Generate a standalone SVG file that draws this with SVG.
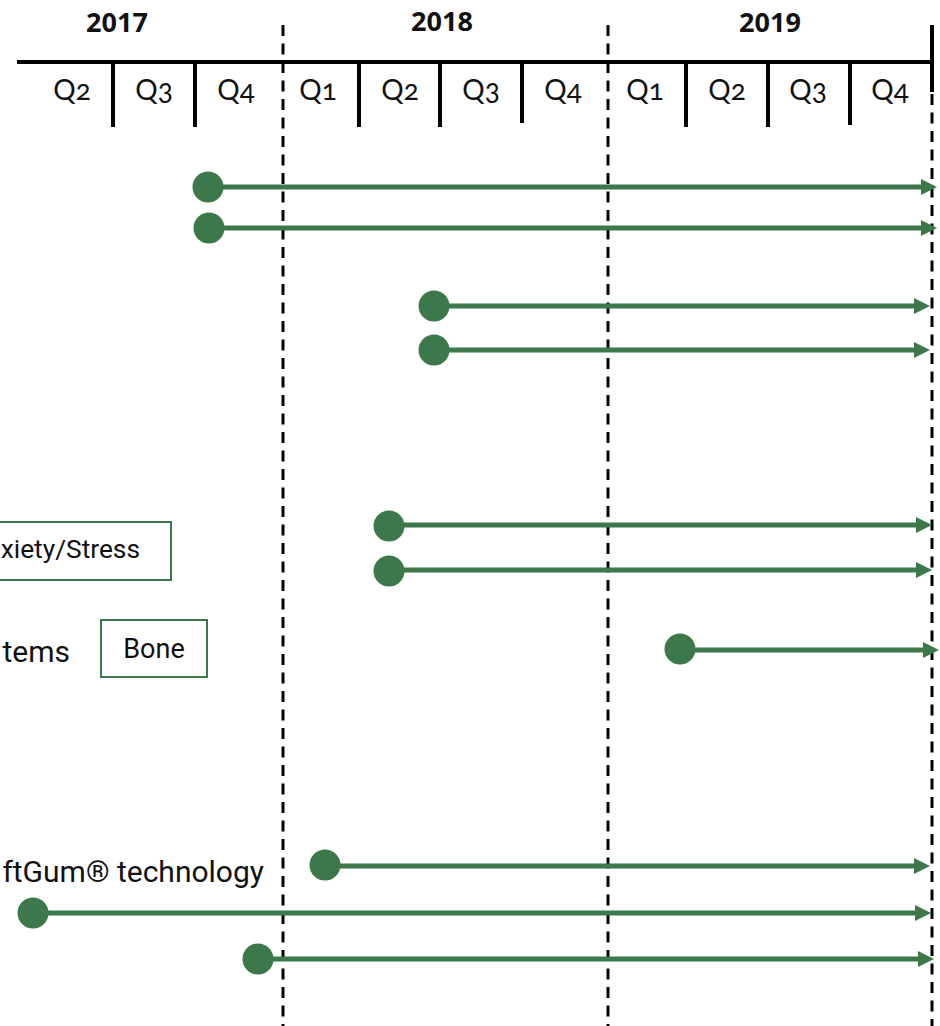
<svg xmlns="http://www.w3.org/2000/svg" width="940" height="1026" viewBox="0 0 940 1026">
<style>
.bg{fill:#ffffff}
.axis{stroke:#000;stroke-width:4;fill:none}
.tick{stroke:#000;stroke-width:4}
.dash{stroke:#000;stroke-width:3;stroke-dasharray:11 7.5;fill:none}
.year{font-family:"Open Sans","Liberation Sans",sans-serif;font-weight:700;font-size:27px;fill:#111;text-anchor:middle}
.q{font-family:Lato,"Open Sans","Liberation Sans",sans-serif;font-size:28px;fill:#111;text-anchor:middle;font-variant-numeric:oldstyle-nums;font-feature-settings:"onum" 1}
.bar{stroke:#3c784a;stroke-width:5;fill:none}
.dot{fill:#3c784a}
.lbl{font-family:Roboto,"Liberation Sans",sans-serif;fill:#111}
.box{fill:#fff;stroke:#3c784a;stroke-width:2}
</style>
<defs>
<marker id="ah" markerUnits="userSpaceOnUse" markerWidth="16" markerHeight="16" refX="4" refY="8" orient="auto">
<path d="M0,0 L16,8 L0,16 Z" fill="#3c784a"/>
</marker>
</defs>
<rect class="bg" x="0" y="0" width="940" height="1026"/>

<g id="timeline">
<line class="axis" x1="17" y1="62" x2="932" y2="62"/>
<line class="tick" x1="932" y1="25" x2="932" y2="92"/>
<line class="tick" x1="113" y1="62" x2="113" y2="127"/>
<line class="tick" x1="195" y1="62" x2="195" y2="127"/>
<line class="tick" x1="359" y1="62" x2="359" y2="127"/>
<line class="tick" x1="440" y1="62" x2="440" y2="127"/>
<line class="tick" x1="522" y1="62" x2="522" y2="123"/>
<line class="tick" x1="686" y1="62" x2="686" y2="127"/>
<line class="tick" x1="768" y1="62" x2="768" y2="127"/>
<line class="tick" x1="850" y1="62" x2="850" y2="125"/>
<text class="year" x="117" y="32">2017</text>
<text class="year" x="442" y="31">2018</text>
<text class="year" x="770" y="32">2019</text>
<text class="q" x="72" y="100">Q2</text>
<text class="q" x="154" y="100">Q3</text>
<text class="q" x="236" y="100">Q4</text>
<text class="q" x="318" y="100">Q1</text>
<text class="q" x="400" y="100">Q2</text>
<text class="q" x="481" y="100">Q3</text>
<text class="q" x="563" y="100">Q4</text>
<text class="q" x="645" y="100">Q1</text>
<text class="q" x="727" y="100">Q2</text>
<text class="q" x="808" y="100">Q3</text>
<text class="q" x="890" y="100">Q4</text>
</g>

<g id="year-dividers">
<line class="dash" x1="283" y1="25" x2="283" y2="1026"/>
<line class="dash" x1="608" y1="25" x2="608" y2="1026"/>
<line class="dash" x1="932" y1="94" x2="932" y2="1026"/>
</g>

<g id="label-anxiety">
<rect class="box" x="-10" y="522" width="181" height="58"/>
<text class="lbl" x="140" y="558" font-size="26.3" text-anchor="end">xiety/Stress</text>
</g>
<g id="label-systems">
<text class="lbl" x="70" y="662" font-size="30" text-anchor="end">tems</text>
</g>
<g id="label-bone">
<rect class="box" x="101" y="620" width="106" height="57"/>
<text class="lbl" x="154" y="658" font-size="27" text-anchor="middle">Bone</text>
</g>
<g id="label-softgum">
<text class="lbl" x="264" y="882" font-size="30" text-anchor="end">ftGum® technology</text>
</g>

<g id="connectors">
<line class="bar" x1="208" y1="187" x2="925" y2="187" marker-end="url(#ah)"/>
<line class="bar" x1="209" y1="228" x2="925" y2="228" marker-end="url(#ah)"/>
<line class="bar" x1="434" y1="306" x2="918" y2="306" marker-end="url(#ah)"/>
<line class="bar" x1="434" y1="350" x2="918" y2="350" marker-end="url(#ah)"/>
<line class="bar" x1="389" y1="525" x2="920" y2="525" marker-end="url(#ah)"/>
<line class="bar" x1="389" y1="570" x2="920" y2="570" marker-end="url(#ah)"/>
<line class="bar" x1="680" y1="650" x2="927" y2="650" marker-end="url(#ah)"/>
<line class="bar" x1="325" y1="866" x2="918" y2="866" marker-end="url(#ah)"/>
<line class="bar" x1="33" y1="913" x2="919" y2="913" marker-end="url(#ah)"/>
<line class="bar" x1="258" y1="959" x2="922" y2="959" marker-end="url(#ah)"/>
</g>

<g id="milestone-1"><circle class="dot" cx="208" cy="187" r="15.5"/></g>
<g id="milestone-2"><circle class="dot" cx="209" cy="228" r="15.5"/></g>
<g id="milestone-3"><circle class="dot" cx="434" cy="306" r="15.5"/></g>
<g id="milestone-4"><circle class="dot" cx="434" cy="350" r="15.5"/></g>
<g id="milestone-5"><circle class="dot" cx="389" cy="526" r="15.5"/></g>
<g id="milestone-6"><circle class="dot" cx="389" cy="571" r="15.5"/></g>
<g id="milestone-7"><circle class="dot" cx="680" cy="649" r="15.5"/></g>
<g id="milestone-8"><circle class="dot" cx="325" cy="865" r="15.5"/></g>
<g id="milestone-9"><circle class="dot" cx="33" cy="913" r="15.5"/></g>
<g id="milestone-10"><circle class="dot" cx="258" cy="959" r="15.5"/></g>
</svg>
